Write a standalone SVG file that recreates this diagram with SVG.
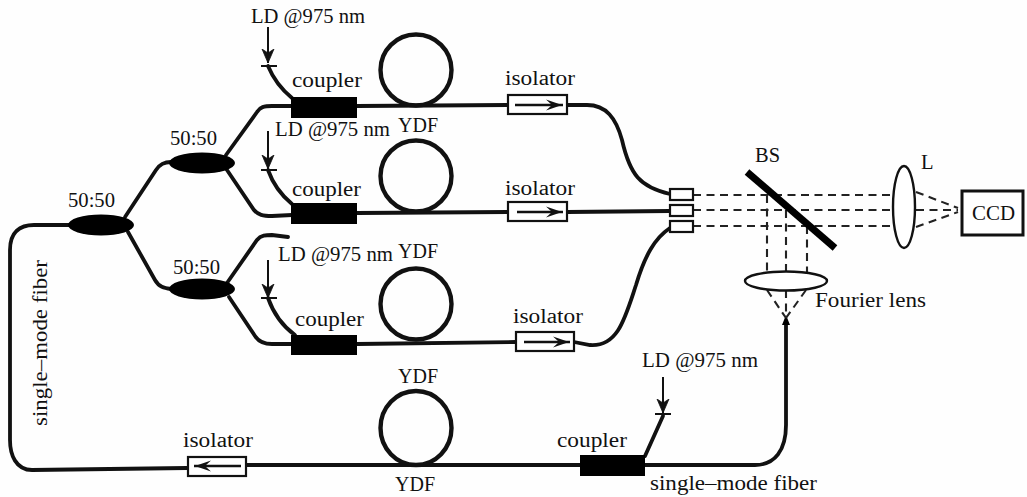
<svg xmlns="http://www.w3.org/2000/svg" width="1027" height="497" viewBox="0 0 1027 497">
<style>
text{font-family:"Liberation Serif","Times New Roman",serif;font-size:20.5px;fill:#111}
.f{fill:none;stroke:#111;stroke-width:3.8;stroke-linecap:round}
.t{fill:none;stroke:#111;stroke-width:2}
.a{fill:none;stroke:#111;stroke-width:2.4}
.d{fill:none;stroke:#222;stroke-width:2.1;stroke-dasharray:8 5.5}
.k{fill:#000;stroke:none}
.o{fill:#fff;stroke:#111;stroke-width:2.2}
.l{fill:#fff;stroke:#111;stroke-width:2.4}
.ring{fill:none;stroke:#111;stroke-width:4.4}
</style>
<defs>
<marker id="v" markerUnits="userSpaceOnUse" markerWidth="16" markerHeight="22" refX="14" refY="8" orient="auto"><path d="M0 2 L14 8 L0 14 L4 8Z" fill="#111" stroke="#111" stroke-width="0.8"/></marker>
<marker id="i" markerUnits="userSpaceOnUse" markerWidth="20" markerHeight="16" refX="19" refY="8" orient="auto"><path d="M2 2.5 L18 8 L2 13.5 L8 8Z" fill="#111"/></marker>
</defs>
<rect width="1027" height="497" fill="#fefefe"/>
<g id="connectors">
<path class="f" d="M187 468 L32 470 C16 470 10 455 10 440 L10 250 C10 232 20 225 34 225 L70 225"/>
<path class="f" d="M125 217 L156 170 C160 164 164 162 171 162"/>
<path class="f" d="M128 232 L155 280 C159 287 164 288 171 289"/>
<path class="f" d="M226 155 L257 112 C260 107 264 106 272 106 L292 106"/>
<path class="f" d="M227 170 L254 210 C258 215 263 216 272 216 L292 215"/>
<path class="f" d="M227 283 L257 240 C261 235 266 235 272 235 L288 237"/>
<path class="f" d="M229 297 L255 336 C259 342 264 344 272 344 L292 344"/>
<path class="f" d="M268 66 C273 78 281 89 292 98"/>
<path class="f" d="M268 170 C273 184 281 195 292 204"/>
<path class="f" d="M268 298 C273 312 281 325 295 335"/>
<path class="f" d="M663 416 L645 456"/>
<path class="f" d="M357 106 L508 105"/>
<path class="f" d="M357 213 L508 212"/>
<path class="f" d="M357 344 L516 342"/>
<path class="f" d="M567 105 L587 105 C606 105 616 118 622 140 C630 175 640 187 670 194"/>
<path class="f" d="M567 212 L670 211"/>
<path class="f" d="M574 342 L590 345 C618 347 625 318 636 285 C645 255 655 238 670 228"/>
<path class="f" d="M246 465 L580 465"/>
<path class="f" d="M645 465 L755 465 C775 465 786 450 786 425 L786 322"/>
<path class="k" d="M786 315 L790 325 L782 325Z"/>
<path class="t" d="M268 27 L268 63" marker-end="url(#v)"/>
<path class="t" d="M268 131 L268 169" marker-end="url(#v)"/>
<path class="t" d="M268 260 L268 298" marker-end="url(#v)"/>
<path class="t" d="M663 377 L663 413" marker-end="url(#v)"/>
<path class="d" d="M693 195 L893 195"/>
<path class="d" d="M693 210 L893 210"/>
<path class="d" d="M693 226 L893 226"/>
<path class="d" d="M767 195 L767 272"/>
<path class="d" d="M786 210 L786 272"/>
<path class="d" d="M807 226 L807 272"/>
<path class="d" d="M767 290 L786 318"/>
<path class="d" d="M786 290 L786 318"/>
<path class="d" d="M806 290 L786 318"/>
<path class="d" d="M916 192 L958 208"/>
<path class="d" d="M916 210 L958 210"/>
<path class="d" d="M916 227 L958 212"/>
</g>
<g id="splitter-1"><ellipse class="k" cx="101" cy="225" rx="33" ry="10.5"/><text x="68" y="207" textLength="47" lengthAdjust="spacingAndGlyphs">50:50</text></g>
<g id="splitter-2"><ellipse class="k" cx="202" cy="163" rx="33" ry="10.5"/><text x="170" y="145" textLength="47" lengthAdjust="spacingAndGlyphs">50:50</text></g>
<g id="splitter-3"><ellipse class="k" cx="202" cy="289" rx="33" ry="10.5"/><text x="173" y="274" textLength="47" lengthAdjust="spacingAndGlyphs">50:50</text></g>
<g id="pump-1"><path class="t" d="M261 66 L277 66"/><text x="251" y="23" textLength="114" lengthAdjust="spacingAndGlyphs">LD @975 nm</text></g>
<g id="pump-2"><path class="t" d="M261 170 L277 170"/><text x="275" y="136" textLength="115" lengthAdjust="spacingAndGlyphs">LD @975 nm</text></g>
<g id="pump-3"><path class="t" d="M261 298 L277 298"/><text x="278" y="261" textLength="115" lengthAdjust="spacingAndGlyphs">LD @975 nm</text></g>
<g id="pump-4"><path class="t" d="M655 414 L671 414"/><text x="642" y="367" textLength="116" lengthAdjust="spacingAndGlyphs">LD @975 nm</text></g>
<g id="coupler-1"><rect class="k" x="291" y="97" width="66" height="21"/><text x="292" y="87" textLength="70" lengthAdjust="spacingAndGlyphs">coupler</text></g>
<g id="coupler-2"><rect class="k" x="291" y="203" width="66" height="21"/><text x="292" y="196" textLength="69" lengthAdjust="spacingAndGlyphs">coupler</text></g>
<g id="coupler-3"><rect class="k" x="291" y="335" width="66" height="20"/><text x="295" y="326" textLength="69" lengthAdjust="spacingAndGlyphs">coupler</text></g>
<g id="coupler-4"><rect class="k" x="580" y="455" width="65" height="21"/><text x="557" y="447" textLength="70" lengthAdjust="spacingAndGlyphs">coupler</text></g>
<g id="ydf-1"><circle class="ring" cx="416" cy="70" r="35.5"/><text x="398" y="132" textLength="40" lengthAdjust="spacingAndGlyphs">YDF</text></g>
<g id="ydf-2"><circle class="ring" cx="416" cy="176" r="35.5"/><text x="398" y="258" textLength="40" lengthAdjust="spacingAndGlyphs">YDF</text></g>
<g id="ydf-3"><circle class="ring" cx="416" cy="304" r="35.5"/></g>
<g id="ydf-4"><ellipse class="ring" cx="416" cy="428" rx="35.5" ry="37"/><text x="398" y="383" textLength="40" lengthAdjust="spacingAndGlyphs">YDF</text><text x="395" y="491" textLength="40" lengthAdjust="spacingAndGlyphs">YDF</text></g>
<g id="isolator-1"><rect class="o" x="508" y="95" width="59" height="19"/><path class="a" d="M515 105 L563 105" marker-end="url(#i)"/><text x="505" y="85" textLength="70" lengthAdjust="spacingAndGlyphs">isolator</text></g>
<g id="isolator-2"><rect class="o" x="508" y="202" width="59" height="19"/><path class="a" d="M517 212 L563 212" marker-end="url(#i)"/><text x="505" y="195" textLength="70" lengthAdjust="spacingAndGlyphs">isolator</text></g>
<g id="isolator-3"><rect class="o" x="516" y="332" width="58" height="19"/><path class="a" d="M524 342 L570 342" marker-end="url(#i)"/><text x="513" y="323" textLength="70" lengthAdjust="spacingAndGlyphs">isolator</text></g>
<g id="isolator-4"><rect class="o" x="188" y="457" width="58" height="19"/><path class="a" d="M241 466 L194 466" marker-end="url(#i)"/><text x="183" y="447" textLength="70" lengthAdjust="spacingAndGlyphs">isolator</text></g>
<g id="collimators"><rect class="o" x="670" y="189" width="23" height="11"/><rect class="o" x="670" y="205" width="23" height="11"/><rect class="o" x="670" y="221" width="23" height="11"/></g>
<g id="bs"><path d="M747 172 L835 248" stroke="#000" stroke-width="7" fill="none"/><text x="755" y="162" textLength="25" lengthAdjust="spacingAndGlyphs">BS</text></g>
<g id="lens-l"><ellipse class="l" cx="904" cy="207" rx="11" ry="41"/><text x="921" y="169">L</text></g>
<g id="ccd"><rect x="962" y="191" width="61" height="44" fill="#fff" stroke="#111" stroke-width="3"/><text x="972" y="220" textLength="43" lengthAdjust="spacingAndGlyphs">CCD</text></g>
<g id="fourier-lens"><ellipse class="l" cx="786" cy="281" rx="41" ry="9.5"/><text x="815" y="307" textLength="111" lengthAdjust="spacingAndGlyphs">Fourier lens</text></g>
<g id="labels"><text x="650" y="490" textLength="167" lengthAdjust="spacingAndGlyphs">single–mode fiber</text><text transform="translate(47 426) rotate(-90)" textLength="166" lengthAdjust="spacingAndGlyphs">single–mode fiber</text></g>
</svg>
